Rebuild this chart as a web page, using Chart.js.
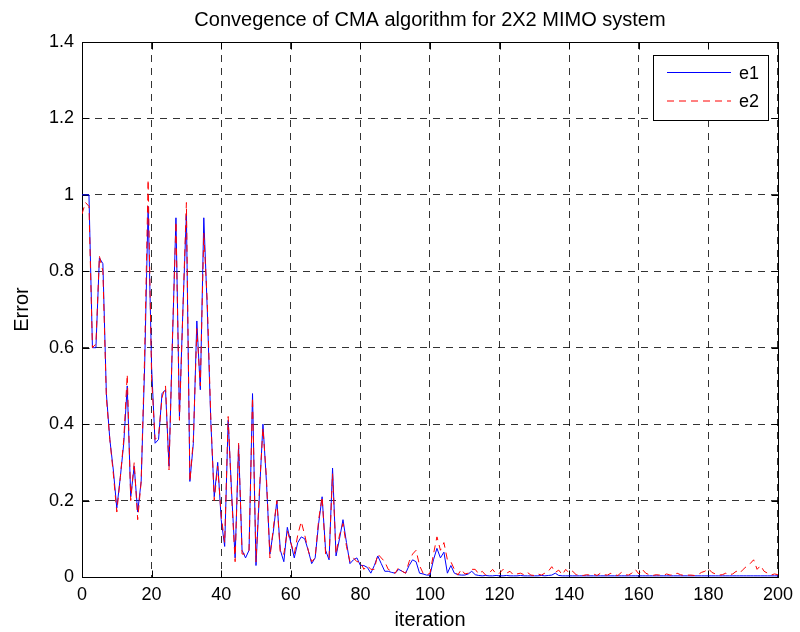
<!DOCTYPE html>
<html>
<head>
<meta charset="utf-8">
<title>CMA convergence</title>
<script src="https://cdn.jsdelivr.net/npm/chart.js@4.4.0/dist/chart.umd.min.js"></script>
<style>
  html, body { margin: 0; padding: 0; background: #fff; }
</style>
</head>
<body>
<canvas id="errChart" width="800" height="632"></canvas>
<script>
// error per iteration (index = iteration)
const e1 = [
  1.0, 1.0, 1.0, 0.6, 0.6, 0.835, 0.82, 0.48, 0.36, 0.28,
  0.18, 0.26, 0.35, 0.50, 0.21, 0.29, 0.17, 0.25, 0.55, 0.97,
  0.55, 0.35, 0.36, 0.48, 0.49, 0.29, 0.62, 0.94, 0.42, 0.70,
  0.95, 0.25, 0.35, 0.67, 0.49, 0.94, 0.70, 0.41, 0.21, 0.30,
  0.15, 0.08, 0.41, 0.22, 0.05, 0.345, 0.07, 0.05, 0.07, 0.48,
  0.03, 0.22, 0.40, 0.25, 0.06, 0.12, 0.20, 0.07, 0.04, 0.13,
  0.09, 0.05, 0.09, 0.105, 0.10, 0.07, 0.035, 0.05, 0.14, 0.21,
  0.07, 0.045, 0.285, 0.055, 0.10, 0.15, 0.09, 0.035, 0.045, 0.05,
  0.03, 0.03, 0.025, 0.01, 0.03, 0.055, 0.035, 0.015, 0.015, 0.012,
  0.01, 0.02, 0.015, 0.01, 0.03, 0.045, 0.04, 0.01, 0.008, 0.005,
  0.005, 0.045, 0.075, 0.05, 0.065, 0.01, 0.03, 0.01, 0.006, 0.005,
  0.005, 0.008, 0.015, 0.006, 0.004, 0.003, 0.004, 0.003, 0.003, 0.004,
  0.003, 0.003, 0.004, 0.003, 0.003, 0.003, 0.004, 0.003, 0.003, 0.003,
  0.003, 0.003, 0.004, 0.003, 0.004, 0.005, 0.01, 0.004, 0.003, 0.003,
  0.003, 0.003, 0.003, 0.003, 0.003, 0.003, 0.003, 0.003, 0.003, 0.003,
  0.003, 0.003, 0.003, 0.003, 0.003, 0.003, 0.003, 0.003, 0.003, 0.003,
  0.003, 0.003, 0.003, 0.003, 0.003, 0.003, 0.003, 0.003, 0.003, 0.003,
  0.003, 0.003, 0.003, 0.003, 0.003, 0.003, 0.003, 0.003, 0.003, 0.003,
  0.003, 0.003, 0.003, 0.003, 0.003, 0.003, 0.003, 0.003, 0.003, 0.003,
  0.003, 0.003, 0.003, 0.003, 0.003, 0.003, 0.003, 0.003, 0.003, 0.003,
  0.003
];
const e2 = [
  0.95, 0.98, 0.97, 0.60, 0.61, 0.84, 0.80, 0.47, 0.36, 0.27,
  0.17, 0.26, 0.36, 0.53, 0.20, 0.30, 0.15, 0.25, 0.58, 1.04,
  0.52, 0.36, 0.37, 0.47, 0.50, 0.28, 0.63, 0.93, 0.41, 0.70,
  0.98, 0.25, 0.36, 0.65, 0.50, 0.90, 0.72, 0.42, 0.20, 0.29,
  0.16, 0.09, 0.42, 0.21, 0.04, 0.35, 0.06, 0.06, 0.07, 0.47,
  0.04, 0.23, 0.39, 0.26, 0.05, 0.13, 0.20, 0.06, 0.06, 0.12,
  0.09, 0.06, 0.11, 0.145, 0.11, 0.07, 0.04, 0.05, 0.15, 0.21,
  0.06, 0.05, 0.27, 0.06, 0.11, 0.14, 0.08, 0.04, 0.05, 0.04,
  0.04, 0.02, 0.03, 0.02, 0.02, 0.06, 0.05, 0.04, 0.02, 0.015,
  0.01, 0.025, 0.015, 0.01, 0.04, 0.06, 0.07, 0.03, 0.01, 0.005,
  0.01, 0.06, 0.105, 0.07, 0.09, 0.045, 0.04, 0.02, 0.005, 0.02,
  0.008, 0.01, 0.02, 0.02, 0.008, 0.015, 0.005, 0.01, 0.02, 0.008,
  0.01, 0.02, 0.01, 0.015, 0.005, 0.008, 0.01, 0.006, 0.012, 0.005,
  0.004, 0.008, 0.005, 0.01, 0.015, 0.027, 0.012, 0.018, 0.006, 0.02,
  0.01, 0.015, 0.006, 0.005, 0.004, 0.006, 0.005, 0.008, 0.004, 0.01,
  0.006, 0.005, 0.01, 0.006, 0.004, 0.012, 0.006, 0.005, 0.01, 0.02,
  0.008, 0.02, 0.01, 0.006, 0.004, 0.006, 0.005, 0.004, 0.008, 0.005,
  0.006, 0.01, 0.006, 0.004, 0.005, 0.005, 0.004, 0.006, 0.012, 0.015,
  0.022, 0.012, 0.008, 0.005, 0.006, 0.01, 0.006, 0.008, 0.015, 0.01,
  0.02, 0.028, 0.035, 0.045, 0.02, 0.03, 0.015, 0.01, 0.005, 0.008,
  0.006
];
const seriesNames = ['e1', 'e2'];
const seriesColors = ['#0000ff', '#ff0000'];
const seriesDashes = [[], [7, 5]];
const xTicks = [0, 20, 40, 60, 80, 100, 120, 140, 160, 180, 200];
const yTicks = [0, 0.2, 0.4, 0.6, 0.8, 1, 1.2, 1.4];
const chartTitle = 'Convegence of CMA algorithm for 2X2 MIMO system';

const SANS = "'Liberation Sans', Arial, Helvetica, sans-serif";

// matlab look: solid box with inward ticks, title over the axes, legend box inside
const matlabAxes = {
  id: 'matlabAxes',
  beforeDatasetsDraw(chart) {
    const { ctx, chartArea: a, scales } = chart;
    const L = Math.round(a.left) + 0.5, R = Math.round(a.right) + 0.5;
    const T = Math.round(a.top) + 0.5, B = Math.round(a.bottom) + 0.5;
    ctx.save();
    ctx.strokeStyle = '#000';
    ctx.lineWidth = 1;
    ctx.strokeRect(L, T, R - L, B - T);
    ctx.beginPath();
    xTicks.forEach(v => {
      const px = Math.round(scales.x.getPixelForValue(v)) + 0.5;
      ctx.moveTo(px, B); ctx.lineTo(px, B - 7);
      ctx.moveTo(px, T); ctx.lineTo(px, T + 7);
    });
    yTicks.forEach(v => {
      const py = Math.round(scales.y.getPixelForValue(v)) + 0.5;
      ctx.moveTo(L, py); ctx.lineTo(L + 7, py);
      ctx.moveTo(R, py); ctx.lineTo(R - 7, py);
    });
    ctx.stroke();

    ctx.fillStyle = '#000';
    ctx.font = '20px ' + SANS;
    ctx.textAlign = 'center';
    ctx.textBaseline = 'middle';
    ctx.fillText(chartTitle, (a.left + a.right) / 2, 20);
    ctx.restore();
  },
  afterDraw(chart) {
    const { ctx } = chart;
    const box = { x: 653.5, y: 55.5, w: 115, h: 65 };
    ctx.save();
    ctx.setLineDash([]);
    ctx.fillStyle = '#ffffff';
    ctx.fillRect(box.x, box.y, box.w, box.h);
    ctx.lineWidth = 1;
    ctx.strokeStyle = '#000000';
    ctx.strokeRect(box.x, box.y, box.w, box.h);
    ctx.font = '18px ' + SANS;
    ctx.textBaseline = 'middle';
    seriesNames.forEach((name, i) => {
      const y = i === 0 ? 72.5 : 101;
      const dash = seriesDashes[i];
      ctx.strokeStyle = seriesColors[i];
      ctx.beginPath();
      if (dash.length) {
        for (let x = 667; x < 731; x += dash[0] + dash[1]) {
          ctx.moveTo(x, y);
          ctx.lineTo(Math.min(x + dash[0], 731), y);
        }
      } else {
        ctx.moveTo(667, y);
        ctx.lineTo(731, y);
      }
      ctx.stroke();
      ctx.fillStyle = '#000000';
      ctx.fillText(name, 739, Math.round(y) + 1);
    });
    ctx.restore();
  }
};

new Chart(document.getElementById('errChart'), {
  type: 'line',
  data: {
    datasets: [
      {
        label: seriesNames[0],
        data: e1.map((v, i) => ({ x: i, y: v })),
        borderColor: seriesColors[0],
        borderWidth: 1,
        pointRadius: 0,
        tension: 0,
        order: 1
      },
      {
        label: seriesNames[1],
        data: e2.map((v, i) => ({ x: i, y: v })),
        borderColor: seriesColors[1],
        borderWidth: 1,
        borderDash: seriesDashes[1],
        pointRadius: 0,
        tension: 0,
        order: 0
      }
    ]
  },
  options: {
    responsive: false,
    animation: false,
    layout: { padding: { left: 0, right: 20, top: 42, bottom: 0 } },
    plugins: {
      legend: { display: false },
      tooltip: { enabled: false },
      title: { display: false }
    },
    scales: {
      x: {
        type: 'linear',
        min: 0,
        max: 200,
        afterBuildTicks: axis => { axis.ticks = xTicks.map(v => ({ value: v })); },
        afterFit: axis => { axis.height = 55; },
        ticks: { color: '#000', font: { family: SANS, size: 18 }, padding: 7, maxRotation: 0, autoSkip: false },
        grid: { color: 'rgba(0,0,0,0.8)', lineWidth: 1, drawTicks: false },
        border: { display: false, dash: [7, 6] },
        title: {
          display: true,
          text: 'iteration',
          color: '#000',
          font: { family: SANS, size: 20 },
          padding: { top: 0, bottom: 0 }
        }
      },
      y: {
        min: 0,
        max: 1.4,
        afterBuildTicks: axis => { axis.ticks = yTicks.map(v => ({ value: v })); },
        afterFit: axis => { axis.width = 82; },
        ticks: {
          color: '#000',
          font: { family: SANS, size: 18 },
          padding: 8,
          callback: v => String(+v.toFixed(1))
        },
        grid: { color: 'rgba(0,0,0,0.8)', lineWidth: 1, drawTicks: false },
        border: { display: false, dash: [7, 6] },
        title: {
          display: true,
          text: 'Error',
          color: '#000',
          font: { family: SANS, size: 20 },
          padding: { top: 10, bottom: 0 }
        }
      }
    }
  },
  plugins: [matlabAxes]
});
</script>
</body>
</html>
